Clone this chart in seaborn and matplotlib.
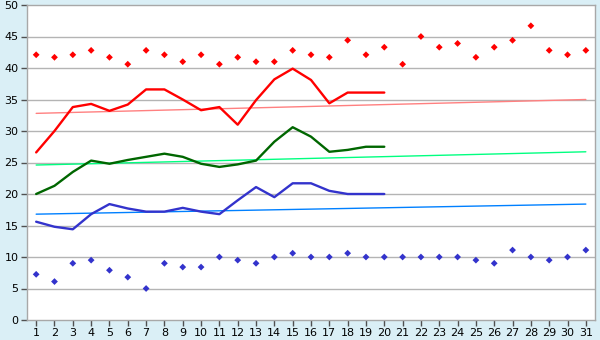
import matplotlib
matplotlib.use("Agg")
import matplotlib.pyplot as plt
import numpy as np
import pandas as pd
import seaborn as sns

# DATA
days = list(range(1, 32))
high_pts = [42.1, 41.7, 42.1, 42.8, 41.7, 40.6, 42.8, 42.1, 41.0, 42.1,
            40.6, 41.7, 41.0, 41.0, 42.8, 42.1, 41.7, 44.4, 42.1, 43.3,
            40.6, 45.0, 43.3, 43.9, 41.7, 43.3, 44.4, 46.7, 42.8, 42.1, 42.8]
low_pts = [7.25, 6.1, 9.0, 9.5, 7.9, 6.8, 5.0, 9.0, 8.4, 8.4,
           10.0, 9.5, 9.0, 10.0, 10.6, 10.0, 10.0, 10.6, 10.0, 10.0,
           10.0, 10.0, 10.0, 10.0, 9.5, 9.0, 11.1, 10.0, 9.5, 10.0, 11.1]
line_days = list(range(1, 21))
red_line = [26.6, 30.0, 33.8, 34.3, 33.2, 34.2, 36.6, 36.6, 35.0, 33.3,
            33.8, 31.0, 34.9, 38.2, 39.9, 38.1, 34.4, 36.1, 36.1, 36.1]
green_line = [20.0, 21.3, 23.5, 25.3, 24.8, 25.4, 25.9, 26.4, 25.9, 24.8,
              24.3, 24.7, 25.3, 28.3, 30.6, 29.1, 26.7, 27.0, 27.5, 27.5]
blue_line = [15.6, 14.8, 14.4, 16.8, 18.4, 17.7, 17.2, 17.2, 17.8, 17.2,
             16.8, 19.0, 21.1, 19.5, 21.7, 21.7, 20.5, 20.0, 20.0, 20.0]
trend_days = [1, 31]
red_trend = [32.8, 35.0]
green_trend = [24.6, 26.7]
blue_trend = [16.8, 18.4]

sns.set_style("white")
plt.rcParams['font.family'] = ['DejaVu Sans']

fig = plt.figure(figsize=(6, 3.4), dpi=100)
fig.patch.set_facecolor('#daeff6')
ax = fig.add_axes([27 / 600, 1 - 320 / 340, 568 / 600, 315 / 340])
ax.set_facecolor('white')

# grid
for g in range(5, 50, 5):
    ax.axhline(g, color='#b4b4b4', lw=1.0, zorder=0)

# trend lines
sns.lineplot(x=trend_days, y=red_trend, color='#ff8080', lw=1.0, ax=ax)
sns.lineplot(x=trend_days, y=green_trend, color='#00ff80', lw=1.0, ax=ax)
sns.lineplot(x=trend_days, y=blue_trend, color='#0080ff', lw=1.0, ax=ax)

# main lines
sns.lineplot(x=line_days, y=red_line, color='#ff0000', lw=1.7, ax=ax)
sns.lineplot(x=line_days, y=green_line, color='#006600', lw=1.7, ax=ax)
sns.lineplot(x=line_days, y=blue_line, color='#3333cc', lw=1.7, ax=ax)

# markers
sns.scatterplot(x=days, y=high_pts, color='#ff0000', marker='D', s=12,
                edgecolor='none', ax=ax)
sns.scatterplot(x=days, y=low_pts, color='#3333cc', marker='D', s=12,
                edgecolor='none', ax=ax)

ax.set_xlim(0.5, 31.5)
ax.set_ylim(0, 50)
ax.set_xticks(days)
ax.set_yticks(range(0, 55, 5))
ax.tick_params(axis='both', labelsize=8, length=4, width=1, color='#505050',
               direction='out', pad=2, labelcolor='black')
ax.tick_params(axis='x', bottom=True)
ax.tick_params(axis='y', left=True)
for sp in ax.spines.values():
    sp.set_color('#a8a8a8')
    sp.set_linewidth(1.0)
ax.set_xlabel('')
ax.set_ylabel('')

fig.savefig('out.png', dpi=100, facecolor=fig.get_facecolor())
